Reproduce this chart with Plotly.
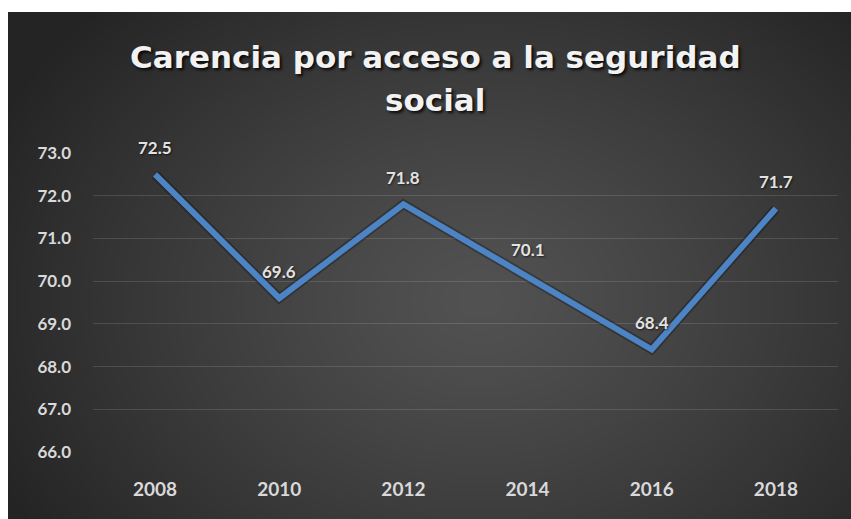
import base64
import struct
import zlib

import numpy as np
import plotly.graph_objects as go

# Series: share of population lacking access to social security (%)
years = ["2008", "2010", "2012", "2014", "2016", "2018"]
values = [72.5, 69.6, 71.8, 70.1, 68.4, 71.7]
y_ticks = [66.0, 67.0, 68.0, 69.0, 70.0, 71.0, 72.0, 73.0]
title_lines = ["Carencia por acceso a la seguridad", "social"]

W, H = 851, 519
# plot-area placement in pixels
L, R, T, B = 93, 838, 153, 452
PW, PH = R - L, B - T


def png_data_uri(rgb):
    """Encode an HxWx3 uint8 array as a PNG data URI."""
    h, w, _ = rgb.shape
    raw = b"".join(b"\x00" + rgb[r].tobytes() for r in range(h))

    def chunk(tag, data):
        body = struct.pack(">I", len(data)) + tag + data
        return body + struct.pack(">I", zlib.crc32(tag + data) & 0xFFFFFFFF)

    png = (b"\x89PNG\r\n\x1a\n"
           + chunk(b"IHDR", struct.pack(">IIBBBBB", w, h, 8, 2, 0, 0, 0))
           + chunk(b"IDAT", zlib.compress(raw, 9))
           + chunk(b"IEND", b""))
    return "data:image/png;base64," + base64.b64encode(png).decode()


# dark radial-gradient chart panel
BX0, BY0 = 8, 12
BW, BH = W - BX0, H - BY0
yy, xx = np.mgrid[0:BH, 0:BW].astype(float)
cx, cy = 480 - BX0, 300 - BY0
d = np.sqrt(((xx - cx) / 540.0) ** 2 + ((yy - cy) / 420.0) ** 2)
t = np.clip(d, 0, 1) ** 1.2
shade = (82 - (82 - 36) * t).astype(np.uint8)
panel = np.dstack([shade, shade, shade])
panel_uri = png_data_uri(panel)

fig = go.Figure()

# soft shadow under the line
fig.add_trace(go.Scatter(
    x=years, y=values, mode="lines",
    line=dict(color="rgba(0,0,0,0.28)", width=9.5),
    hoverinfo="skip", showlegend=False,
))
fig.add_trace(go.Scatter(
    x=years, y=values, mode="lines",
    line=dict(color="#4c84c6", width=6),
    showlegend=False, cliponaxis=False,
))

# value labels above each point (category index as x position)
for i, v in enumerate(values):
    fig.add_annotation(
        x=i, y=v, text=f"{v:.1f}", showarrow=False,
        yshift=27, xanchor="center", yanchor="middle",
        font=dict(family="Lato", size=17, color="#e2e2e2", weight="bold",
                  shadow="1px 1px 2px rgba(0,0,0,0.6)"),
    )

# two-line title
for line, ypx in zip(title_lines, [57, 100]):
    fig.add_annotation(
        xref="paper", yref="paper",
        x=(435 - L) / PW, y=1 + (T - ypx) / PH,
        text=line, showarrow=False, xanchor="center", yanchor="middle",
        font=dict(family="DejaVu Sans", size=31, color="#f2f2f2", weight="bold",
                  shadow="2px 2px 3px rgba(0,0,0,0.85)"),
    )

fig.add_layout_image(
    source=panel_uri, xref="paper", yref="paper",
    x=(BX0 - L) / PW, y=1 + (T - BY0) / PH,
    sizex=BW / PW, sizey=BH / PH,
    xanchor="left", yanchor="top", sizing="stretch", layer="below",
)

fig.update_layout(
    width=W, height=H, autosize=False,
    margin=dict(l=L, r=W - R, t=T, b=H - B, pad=0),
    paper_bgcolor="white", plot_bgcolor="rgba(0,0,0,0)",
    showlegend=False,
    xaxis=dict(
        type="category", range=[-0.5, 5.5], showgrid=False, zeroline=False,
        showline=False, ticks="", ticklabelstandoff=24,
        tickfont=dict(family="Lato", size=19, color="#d9d9d9", weight="bold"),
    ),
    yaxis=dict(
        range=[66, 73], tickvals=y_ticks, tickformat=".1f",
        showgrid=True, gridcolor="rgba(255,255,255,0.13)", gridwidth=1,
        zeroline=False, showline=False, ticks="", ticklabelstandoff=21,
        tickfont=dict(family="Lato", size=17, color="#d9d9d9", weight="bold"),
    ),
)

fig.write_html("out.html")
